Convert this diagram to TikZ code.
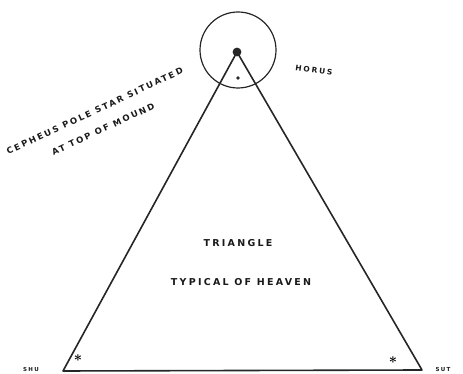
\documentclass[tikz,border=0pt]{standalone}
\usepackage{fontspec}
\newfontfamily\hand[LetterSpace=24]{DejaVu Sans}
\usetikzlibrary{positioning}

\begin{document}
\begin{tikzpicture}[x=1pt, y=1pt, font=\hand\bfseries\fontsize{9.5}{10}\selectfont,
  lbl/.style={inner sep=0pt, text=black!90},
  small/.style={lbl, font=\hand\bfseries\fontsize{8.5}{9}\selectfont},
  starmark/.style={inner sep=0pt, font=\Large\boldmath}]
\useasboundingbox (0,0) rectangle (463,374);
% mound with the pole star on top
\coordinate (apex) at (237,322);
\coordinate (shu) at (63,3);
\coordinate (sut) at (422,4);
\draw[line width=1.2pt, black!85] (238,324) circle (38);
\fill[black!85] (apex) circle (4.4);
\fill[black!85] (238,296) circle (1.9);
\draw[line width=1.6pt, black!85, line join=round] (apex) -- (shu) -- (sut) -- cycle;
% stars at the base corners
\node[starmark] (starshu) at (78,16) {$\ast$};
\node[starmark] (starsut) at (393,14) {$\ast$};
% labels
\node[small, rotate=25, align=center] (cepheus) at (99,254) {CEPHEUS POLE STAR SITUATED\\[11pt]AT TOP OF MOUND};
\node[small, rotate=-8, font=\hand\bfseries\fontsize{7.5}{8}\selectfont] (horus) at (314,304) {HORUS};
\node[lbl] (tri) at (238,131) {TRIANGLE};
\node[lbl] (heaven) at (241,92) {TYPICAL OF HEAVEN};
\node[small, font=\hand\bfseries\fontsize{5.5}{7}\selectfont] (shulbl) at (31,4) {SHU};
\node[small, font=\hand\bfseries\fontsize{5.5}{7}\selectfont] (sutlbl) at (443,4) {SUT};
\end{tikzpicture}
\end{document}
